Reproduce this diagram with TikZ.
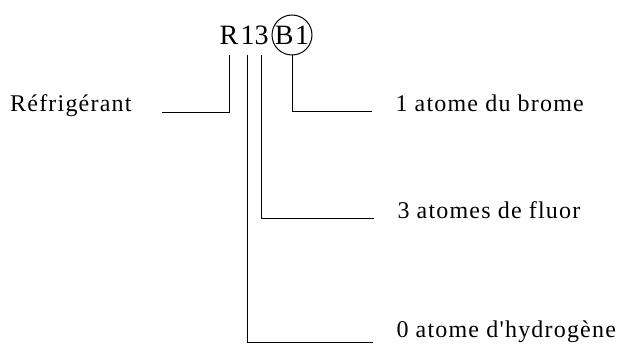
\documentclass[tikz,border=0pt]{standalone}
\usepackage{fontspec}
\newfontfamily\lblfont{Liberation Serif}[LetterSpace=5]
\usetikzlibrary{positioning}

\begin{document}
\begin{tikzpicture}[x=1pt, y=-1pt, line width=1pt,
    every node/.style={font=\lblfont\fontsize{24}{28}\selectfont},
    sym/.style={font=\lblfont\fontsize{28}{32}\selectfont, inner sep=0pt, minimum height=40pt},
    lbl/.style={inner xsep=23pt, inner ysep=0pt}]
\useasboundingbox (0,0) rectangle (630,345);

% ==== Refrigerant code (top row) ====
\node[sym] (r)  at (229, 35)   {R};
\node[sym] (h)  at (247.5, 35) {1};
\node[sym] (f)  at (261.5, 35) {3};
\node[sym, draw, circle, minimum size=40pt] (br) at (292, 35) {B1};

% ==== Labels ====
\node[lbl, anchor=base east, inner xsep=30pt] (lr) at (162, 111) {Réfrigérant};
\node[lbl, anchor=base west] (lb) at (372, 112) {1 atome du brome};
\node[lbl, anchor=base west] (lf) at (374, 218) {3 atomes de fluor};
\node[lbl, anchor=base west] (lh) at (373, 337) {0 atome d'hydrogène};

% ==== Connectors ====
\draw (r.south)  |- ([yshift=-2pt]lr.base east);
\draw (br.south) |- (lb.base west);
\draw (f.south)  |- (lf.base west);
\draw (h.south)  |- ([yshift=-5pt]lh.base west);
\end{tikzpicture}
\end{document}
